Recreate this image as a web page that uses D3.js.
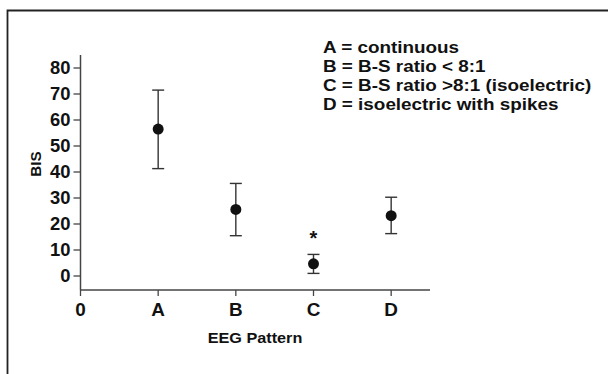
<!DOCTYPE html>
<html><head><meta charset="utf-8">
<script src="https://cdn.jsdelivr.net/npm/d3@7"></script>
<style>body{margin:0;background:#fff}svg{display:block}text{font-family:"Liberation Sans",Arial,sans-serif;font-weight:bold;fill:#111}</style>
</head><body>
<script>
const categories = ["A","B","C","D"];
const xTickLabels = ["0","A","B","C","D"];
const means = [56.5, 25.6, 4.7, 23.2];
const upper = [71.5, 35.6, 8.3, 30.3];
const lower = [41.3, 15.5, 1.0, 16.3];
const yTicks = [0,10,20,30,40,50,60,70,80];
const legendLines = ["A = continuous","B = B-S ratio < 8:1","C = B-S ratio >8:1 (isoelectric)","D = isoelectric with spikes"];
const significant = ["C"];

const W = 608, H = 374;
const svg = d3.select("body").append("svg").attr("width", W).attr("height", H);

// frame
svg.append("path").attr("d", `M7.5,${H} V10.5 H${W}`).attr("fill","none").attr("stroke","#222").attr("stroke-width",1.8);

const x = d3.scaleLinear().domain([0, 4.5]).range([80.5, 430]);
const y = d3.scaleLinear().domain([0, 80]).range([276, 68]);
const axisColor = "#444";

function stxt(sel, px, py, sx, anchor, size, txt, rot) {
  return sel.append("text")
    .attr("transform", `translate(${px},${py})` + (rot ? ` rotate(${rot})` : "") + ` scale(${sx},1)`)
    .attr("text-anchor", anchor).attr("dy","0.36em").attr("font-size", size).text(txt);
}

// y axis
const gy = svg.append("g").attr("transform","translate(80.5,0)");
gy.append("line").attr("x1",0).attr("x2",0).attr("y1",55).attr("y2",290).attr("stroke",axisColor).attr("stroke-width",1.5);
gy.selectAll(".t").data(yTicks).join("line").attr("x1",-7).attr("x2",0)
  .attr("y1",d=>y(d)).attr("y2",d=>y(d)).attr("stroke",axisColor).attr("stroke-width",1.3);
yTicks.forEach(d => stxt(gy, -10, y(d), 1.05, "end", 17.5, d));
stxt(svg, 36, y(40)-8, 1.05, "middle", 14.5, "BIS", -90);

// x axis
const gx = svg.append("g").attr("transform","translate(0,290)");
gx.append("line").attr("x1",80).attr("x2",x(4.5)).attr("y1",0).attr("y2",0).attr("stroke",axisColor).attr("stroke-width",1.5);
gx.selectAll(".t").data(xTickLabels).join("line").attr("x1",(d,i)=>x(i)).attr("x2",(d,i)=>x(i))
  .attr("y1",0).attr("y2",6).attr("stroke",axisColor).attr("stroke-width",1.3);
xTickLabels.forEach((d,i) => stxt(gx, x(i), 20, 1.05, "middle", 18, d));
stxt(svg, 255, 338, 1.12, "middle", 14.5, "EEG Pattern");

// error bars
const pts = categories.map((c,i)=>({c, xi:i+1, m:means[i], u:upper[i], l:lower[i]}));
const g = svg.append("g");
g.selectAll(".v").data(pts).join("line").attr("x1",d=>x(d.xi)).attr("x2",d=>x(d.xi))
  .attr("y1",d=>y(d.u)).attr("y2",d=>y(d.l)).attr("stroke","#333").attr("stroke-width",1.4);
["u","l"].forEach(k=>{
  g.selectAll(".c"+k).data(pts).join("line").attr("x1",d=>x(d.xi)-6).attr("x2",d=>x(d.xi)+6)
   .attr("y1",d=>y(d[k])).attr("y2",d=>y(d[k])).attr("stroke","#333").attr("stroke-width",1.4);
});
g.selectAll("circle").data(pts).join("circle").attr("cx",d=>x(d.xi)).attr("cy",d=>y(d.m)).attr("r",5.5).attr("fill","#111");
g.selectAll(".star").data(pts.filter(d=>significant.includes(d.c))).join("text")
  .attr("x",d=>x(d.xi)).attr("y",d=>y(d.u)-19).attr("dy","0.5em").attr("text-anchor","middle")
  .attr("font-size",20).text("*");

// legend
legendLines.forEach((d,i) => stxt(svg, 323, 47+i*19.2, 1.18, "start", 16, d));
</script>
</body></html>
